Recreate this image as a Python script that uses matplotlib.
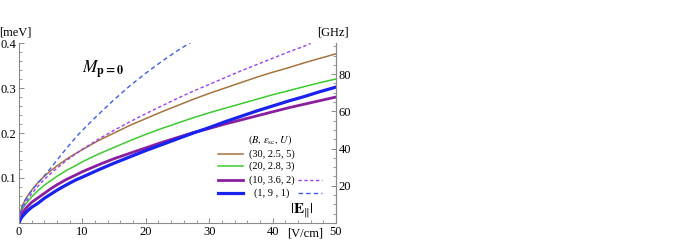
import matplotlib
matplotlib.use("Agg")
import matplotlib.pyplot as plt
from matplotlib.ticker import MultipleLocator, FixedLocator

plt.rcParams['font.family'] = ['Liberation Serif', 'DejaVu Serif']
plt.rcParams['mathtext.fontset'] = 'stix'

# ---- data ----
E_field = [0, 0.25, 0.5, 1, 1.5, 2, 3, 4, 5, 6, 7.5, 9, 10, 12.5, 15, 17.5, 20,
           22.5, 25, 27.5, 30, 32.5, 35, 37.5, 40, 42.5, 45, 47.5, 50]
brown_30 = [0, 0.026, 0.037, 0.052, 0.063, 0.073, 0.090, 0.104, 0.116, 0.127, 0.142, 0.155, 0.163,
            0.183, 0.200, 0.217, 0.232, 0.247, 0.261, 0.275, 0.288, 0.300, 0.312, 0.324, 0.335,
            0.345, 0.356, 0.366, 0.376]
green_20 = [0, 0.021, 0.030, 0.041, 0.050, 0.058, 0.072, 0.084, 0.094, 0.104, 0.117, 0.128, 0.136,
            0.153, 0.168, 0.183, 0.197, 0.210, 0.222, 0.234, 0.245, 0.255, 0.265, 0.275, 0.285,
            0.294, 0.303, 0.312, 0.320]
purple_10 = [0, 0.015, 0.021, 0.031, 0.039, 0.046, 0.056, 0.066, 0.076, 0.085, 0.097, 0.107, 0.114,
             0.129, 0.143, 0.155, 0.167, 0.179, 0.190, 0.201, 0.210, 0.220, 0.229, 0.238, 0.247,
             0.256, 0.264, 0.272, 0.280]
blue_1 = [0, 0.009, 0.014, 0.022, 0.029, 0.035, 0.044, 0.055, 0.064, 0.073, 0.085, 0.096, 0.102,
          0.118, 0.133, 0.147, 0.161, 0.174, 0.187, 0.200, 0.212, 0.225, 0.237, 0.249, 0.260,
          0.271, 0.281, 0.292, 0.302]

E_pdash = [0, 0.25, 0.5, 1, 1.5, 2, 3, 4, 5, 6, 7.5, 9, 10, 12.5, 15, 17.5, 20,
           22.5, 25, 27.5, 30, 32.5, 35, 37.5, 40, 42.5, 45, 46]
purple_10_dash = [0, 0.021, 0.030, 0.044, 0.055, 0.065, 0.082, 0.097, 0.110, 0.122, 0.139, 0.154,
                  0.164, 0.186, 0.206, 0.225, 0.243, 0.260, 0.277, 0.293, 0.308, 0.323, 0.338,
                  0.352, 0.366, 0.380, 0.393, 0.399]

E_bdash = [0, 0.25, 0.5, 1, 1.5, 2, 3, 4, 5, 6, 7.5, 9, 10, 12.5, 15, 17.5, 20, 22.5, 25, 27.5]
blue_1_dash = [0, 0.025, 0.036, 0.051, 0.062, 0.072, 0.089, 0.105, 0.122, 0.140, 0.166, 0.191,
               0.206, 0.241, 0.274, 0.305, 0.333, 0.359, 0.383, 0.405]

labels = ["(30, 2.5, 5)", "(20, 2.8, 3)", "(10, 3.6, 2)", "(1, 9 , 1)"]
meV_to_GHz = 241.8

c_brown = "#A5733E"
c_green = "#3CCB2E"
c_purple = "#8A1F9E"
c_blue = "#1A22F0"
c_pdash = "#9A40F0"
c_bdash = "#3D5EE8"

fig = plt.figure(figsize=(6.96, 2.47), dpi=100)
ax = fig.add_axes([19/696, 24/247, 317/696, 180/247])

ax.plot(E_field, brown_30, color=c_brown, lw=1.1)
ax.plot(E_field, green_20, color=c_green, lw=1.1)
ax.plot(E_field, purple_10, color=c_purple, lw=2.0)
ax.plot(E_field, blue_1, color=c_blue, lw=2.3)
ax.plot(E_bdash, blue_1_dash, color=c_bdash, lw=1.0, dashes=(3.2, 2.3))
ax.plot(E_pdash, purple_10_dash, color=c_pdash, lw=1.0, dashes=(2.4, 1.8))

ax.set_xlim(0, 50)
ax.set_ylim(0, 0.4)

spine_col = "#8a8a8a"
ax.spines['top'].set_visible(False)
for s in ['left', 'bottom', 'right']:
    ax.spines[s].set_color(spine_col)
    ax.spines[s].set_linewidth(0.8)

ax.xaxis.set_major_locator(FixedLocator([0, 10, 20, 30, 40, 50]))
ax.xaxis.set_minor_locator(MultipleLocator(2))
ax.yaxis.set_major_locator(FixedLocator([0.1, 0.2, 0.3, 0.4]))
ax.yaxis.set_minor_locator(MultipleLocator(0.02))
ax.set_yticklabels(["0.1", "0.2", "0.3", "0.4"])
ax.tick_params(which='both', direction='in', color=spine_col, labelsize=9, pad=2)
ax.tick_params(which='major', length=3.5, width=0.7)
ax.tick_params(which='minor', length=2, width=0.6)
ax.tick_params(axis='y', right=False)

ax2 = ax.twinx()
ax2.set_ylim(0, 0.4 * meV_to_GHz)
ax2.spines['top'].set_visible(False)
ax2.spines['left'].set_visible(False)
ax2.spines['bottom'].set_visible(False)
ax2.spines['right'].set_color(spine_col)
ax2.spines['right'].set_linewidth(0.8)
ax2.yaxis.set_major_locator(FixedLocator([20, 40, 60, 80]))
ax2.yaxis.set_minor_locator(MultipleLocator(5))
ax2.tick_params(which='both', direction='in', color=spine_col, labelsize=9, pad=2)
ax2.tick_params(which='major', length=3.5, width=0.7)
ax2.tick_params(which='minor', length=2, width=0.6)

# axis unit labels
ax.text(-0.012, 1.061, "[meV]", transform=ax.transAxes, ha='center', va='center', fontsize=9)
ax.text(0.99, 1.056, "[GHz]", transform=ax.transAxes, ha='center', va='center', fontsize=9)
ax.text(0.902, -0.058, "[V/cm]", transform=ax.transAxes, ha='center', va='center', fontsize=9)
ax.text(0.893, 0.066, r"$|\mathbf{E}_{\|}|$", transform=ax.transAxes, ha='center', va='center', fontsize=11)
ax.text(0.198, 0.85, r"$M_{\mathbf{p=0}}$", transform=ax.transAxes, ha='left', va='center', fontsize=12.5)

# legend (drawn manually)
ax.text(0.792, 0.461, r"$(B,\,\epsilon_{\rm sc},\,U)$", transform=ax.transAxes, ha='center', va='center', fontsize=7.5)
leg_y = [0.383, 0.317, 0.239, 0.167]
leg_cols = [c_brown, c_green, c_purple, c_blue]
leg_lw = [1.1, 1.1, 2.0, 2.3]
for yy, col, lw, lab in zip(leg_y, leg_cols, leg_lw, labels):
    ax.plot([0.628, 0.707], [yy, yy], transform=ax.transAxes, color=col, lw=lw, clip_on=False)
    ax.text(0.797, yy, lab, transform=ax.transAxes, ha='center', va='center', fontsize=7.5)
ax.plot([0.880, 0.956], [leg_y[2], leg_y[2]], transform=ax.transAxes, color=c_pdash, lw=1.0, dashes=(2.4, 1.8), clip_on=False)
ax.plot([0.880, 0.956], [leg_y[3], leg_y[3]], transform=ax.transAxes, color=c_bdash, lw=1.0, dashes=(3.2, 2.3), clip_on=False)

fig.savefig("out.png", dpi=100)
